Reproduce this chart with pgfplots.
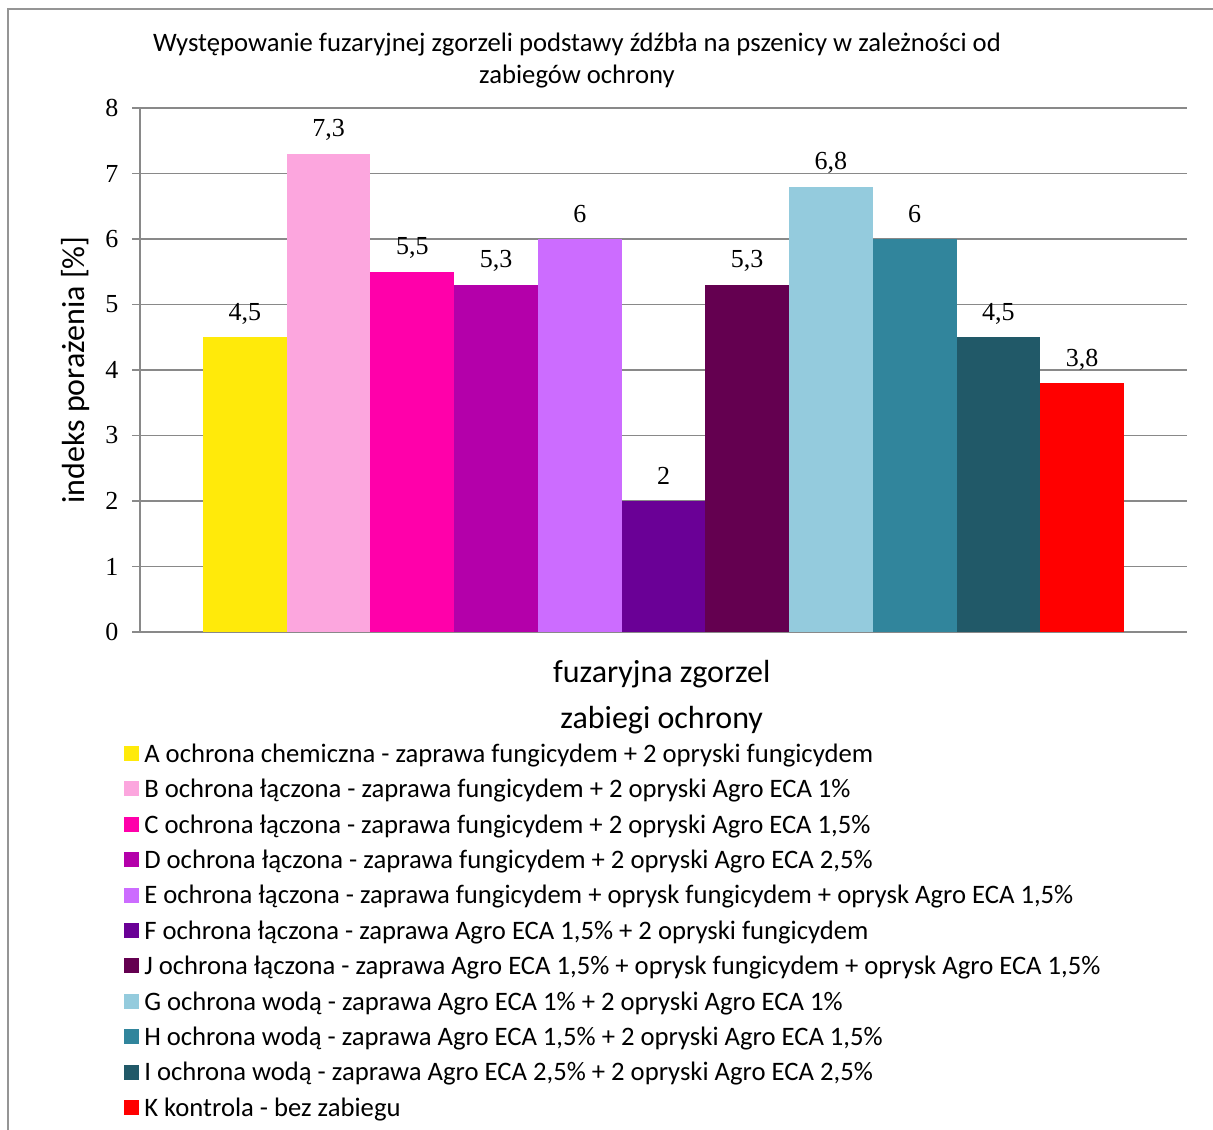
\documentclass[border=0pt]{standalone}
\usepackage{pgfplots}
\pgfplotsset{compat=1.18}
\usepackage{fontspec}
\setmainfont{Carlito}
\newfontfamily\numfont{Liberation Serif}
\definecolor{cA}{RGB}{255,234,10}
\definecolor{cB}{RGB}{252,166,222}
\definecolor{cC}{RGB}{255,0,170}
\definecolor{cD}{RGB}{180,0,170}
\definecolor{cE}{RGB}{204,108,255}
\definecolor{cF}{RGB}{106,0,150}
\definecolor{cJ}{RGB}{100,0,80}
\definecolor{cG}{RGB}{148,203,221}
\definecolor{cH}{RGB}{49,133,156}
\definecolor{cI}{RGB}{33,89,104}
\definecolor{cK}{RGB}{255,0,0}
\definecolor{gridc}{RGB}{137,137,137}
\begin{document}
\begin{tikzpicture}
\path[use as bounding box] (0,0) rectangle (909.75pt,846.75pt);
\draw[gridc!90, line width=1.2pt] (6pt,840pt) rectangle (914pt,-5pt);
\begin{axis}[
  at={(105pt,372.75pt)}, anchor=south west,
  scale only axis, width=785.25pt, height=393pt,
  ybar, bar width=1, bar shift=0pt,
  xmin=-1.253, xmax=11.253, ymin=0, ymax=8,
  ytick={0,1,...,8}, xtick=\empty,
  axis lines=left, axis line style={draw=gridc, line width=1.3pt, -},
  ymajorgrids, grid style={draw=gridc, line width=1.3pt},
  tick align=outside, major tick length=6pt, tick style={draw=gridc, line width=1.3pt},
  /pgf/number format/assume math mode=true,
  /pgf/number format/use comma, /pgf/number format/fixed, /pgf/number format/precision=1,
  ticklabel style={font=\numfont\fontsize{19.5}{19.5}\selectfont},
  yticklabel style={xshift=-6.75pt},
  nodes near coords,
  every node near coord/.append style={font=\numfont\fontsize{19.5}{19.5}\selectfont, anchor=base, yshift=12.75pt, black},
  ylabel={indeks porażenia [\%]},
  ylabel style={font=\fontsize{24}{28}\selectfont, at={(axis description cs:0,0.5)}, anchor=center, yshift=48pt},
  xlabel={fuzaryjna zgorzel\\zabiegi ochrony},
  xlabel style={font=\fontsize{24}{34.5}\selectfont, align=center, at={(axis description cs:0.4983,0)}, anchor=center, yshift=-49pt},
  title={Występowanie fuzaryjnej zgorzeli podstawy źdźbła na pszenicy w zależności od\\zabiegów ochrony},
  title style={font=\fontsize{20}{24}\selectfont, align=center, at={(axis description cs:0.4174,1)}, anchor=center, yshift=29.25pt},
  legend cell align=left,
  legend image code/.code={\fill[#1] (0pt,-3.75pt) rectangle (11.25pt,7.5pt);},
  legend style={draw=none, fill=none, inner sep=0pt, row sep=0pt,
    at={(axis description cs:0,0)}, anchor=north west, xshift=-12pt, yshift=-79.5pt,
    font=\fontsize{20}{20}\selectfont,
    nodes={inner ysep=0pt, inner xsep=3.75pt, text height=18pt, text depth=8.55pt}},
]
\addplot[fill=cA, draw=none] coordinates {(0,4.5)};
\addplot[fill=cB, draw=none] coordinates {(1,7.3)};
\addplot[fill=cC, draw=none] coordinates {(2,5.5)};
\addplot[fill=cD, draw=none] coordinates {(3,5.3)};
\addplot[fill=cE, draw=none] coordinates {(4,6)};
\addplot[fill=cF, draw=none] coordinates {(5,2)};
\addplot[fill=cJ, draw=none] coordinates {(6,5.3)};
\addplot[fill=cG, draw=none] coordinates {(7,6.8)};
\addplot[fill=cH, draw=none] coordinates {(8,6)};
\addplot[fill=cI, draw=none] coordinates {(9,4.5)};
\addplot[fill=cK, draw=none] coordinates {(10,3.8)};
\legend{
A ochrona chemiczna - zaprawa fungicydem + 2 opryski fungicydem,
B ochrona łączona - zaprawa fungicydem + 2 opryski Agro ECA 1\%,
{C ochrona łączona - zaprawa fungicydem + 2 opryski Agro ECA 1,5\%},
{D ochrona łączona - zaprawa fungicydem + 2 opryski Agro ECA 2,5\%},
{E ochrona łączona - zaprawa fungicydem + oprysk fungicydem + oprysk Agro ECA 1,5\%},
{F ochrona łączona - zaprawa Agro ECA 1,5\% + 2 opryski fungicydem},
{J ochrona łączona - zaprawa Agro ECA 1,5\% + oprysk fungicydem + oprysk Agro ECA 1,5\%},
G ochrona wodą - zaprawa Agro ECA 1\% + 2 opryski Agro ECA 1\%,
{H ochrona wodą - zaprawa Agro ECA 1,5\% + 2 opryski Agro ECA 1,5\%},
{I ochrona wodą - zaprawa Agro ECA 2,5\% + 2 opryski Agro ECA 2,5\%},
K kontrola - bez zabiegu}
\end{axis}
\end{tikzpicture}
\end{document}
